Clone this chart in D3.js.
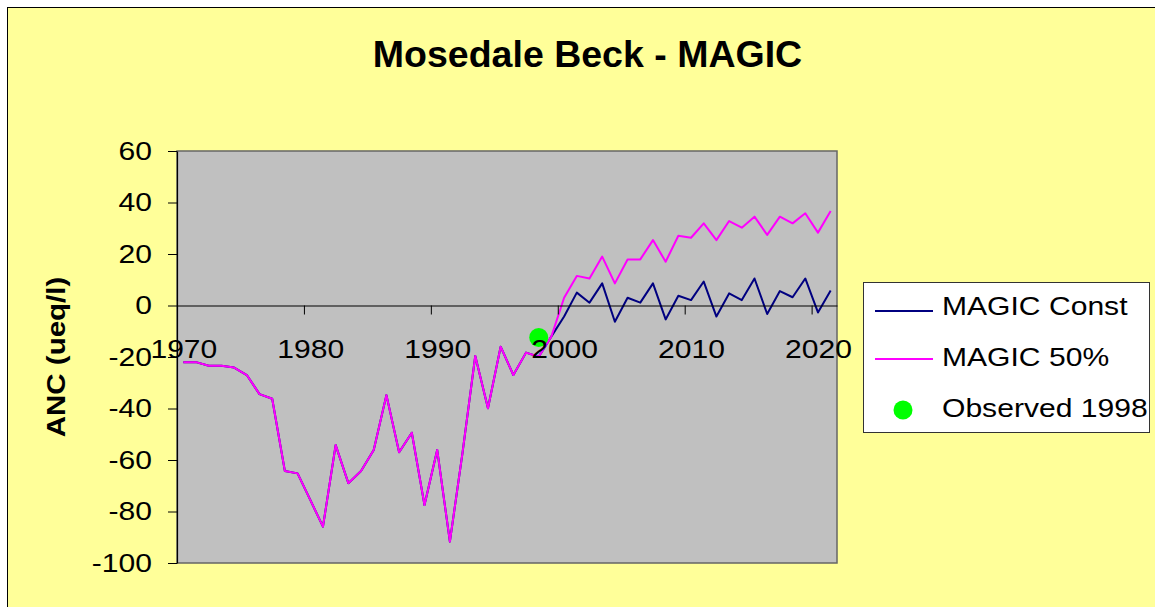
<!DOCTYPE html>
<html>
<head>
<meta charset="utf-8">
<script src="https://cdn.jsdelivr.net/npm/d3@7"></script>
<style>
  html, body { margin: 0; padding: 0; background: #ffffff; }
  svg { display: block; }
  text { font-family: "Liberation Sans", Arial, sans-serif; fill: #000; }
</style>
</head>
<body>
<svg id="chart" width="1155" height="607"></svg>
<script>
// Annual ANC (ueq/l) at Mosedale Beck, MAGIC model runs
const years = d3.range(1970, 2022);

const ancConst = [
  -22, -22, -23.4, -23.4, -24.1, -27, -34.4, -36.2, -64.3, -65.2,
  -75.5, -85.9, -54.2, -69, -64.3, -56.1, -34.8, -57, -49.4, -77.5,
  -56.1, -91.7, -57, -19.6, -39.9, -16, -27, -18.3, -19.9, -12,
  -4.3, 5.0, 1.1, 8.6, -6.3, 3.0, 1.1, 8.6, -5.4, 3.8,
  2.1, 9.3, -4.3, 4.7, 2.1, 10.5, -3.3, 5.6, 3.2, 10.5,
  -2.7, 5.8
];

const anc50 = [
  -22, -22, -23.4, -23.4, -24.1, -27, -34.4, -36.2, -64.3, -65.2,
  -75.5, -85.9, -54.2, -69, -64.3, -56.1, -34.8, -57, -49.4, -77.5,
  -56.1, -91.7, -57, -19.6, -39.9, -16, -27, -18.3, -19.9, -12,
  3.0, 11.5, 10.5, 19, 8.6, 17.9, 17.9, 25.4, 17, 27.1,
  26.3, 31.9, 25.4, 32.8, 30.2, 34.5, 27.4, 34.5, 31.9, 35.8,
  28.3, 36.7
];

const observedYear = [1998];
const observedAnc = [-12.4];

const yTicks = [-100, -80, -60, -40, -20, 0, 20, 40, 60];
const xLabelYears = [1970, 1980, 1990, 2000, 2010, 2020];

const seriesNames = ["MAGIC Const", "MAGIC 50%", "Observed 1998"];
const seriesColors = ["#000080", "#FF00FF", "#00FF00"];

const svg = d3.select("#chart");
const STRETCH = 1.18; // horizontal widening of axis & legend type

// chart area
svg.append("rect")
  .attr("x", 7.5).attr("y", 7.5)
  .attr("width", 1160).attr("height", 610)
  .attr("fill", "#FFFF99").attr("stroke", "#000").attr("stroke-width", 1);

// title
svg.append("text")
  .attr("x", 587.5).attr("y", 67)
  .attr("text-anchor", "middle")
  .attr("font-size", 37.5).attr("font-weight", "bold")
  .text("Mosedale Beck - MAGIC");

const plot = { left: 177, right: 837, top: 151, bottom: 563 };

// category boundaries on a continuous year scale; points sit mid-category
const x = d3.scaleLinear()
  .domain([years[0], years[years.length - 1] + 1])
  .range([plot.left, plot.right]);
const half = (x(1971) - x(1970)) / 2;
const cx = yr => x(yr) + half;

const y = d3.scaleLinear().domain([-100, 60]).range([plot.bottom, plot.top]);

// plot area
svg.append("rect")
  .attr("x", plot.left).attr("y", plot.top)
  .attr("width", plot.right - plot.left).attr("height", plot.bottom - plot.top)
  .attr("fill", "#C0C0C0").attr("stroke", "#666").attr("stroke-width", 1.5);

// series lines
const line = d3.line().x((d, i) => cx(years[i])).y(d => y(d));

svg.append("path").datum(ancConst)
  .attr("d", line).attr("fill", "none")
  .attr("stroke", seriesColors[0]).attr("stroke-width", 2)
  .attr("stroke-linejoin", "round");

svg.append("path").datum(anc50)
  .attr("d", line).attr("fill", "none")
  .attr("stroke", seriesColors[1]).attr("stroke-width", 2)
  .attr("stroke-linejoin", "round");

// observed point
svg.selectAll("circle.obs").data(observedAnc).enter().append("circle")
  .attr("class", "obs")
  .attr("cx", (d, i) => cx(observedYear[i]))
  .attr("cy", d => y(d))
  .attr("r", 9.5)
  .attr("fill", seriesColors[2]);

// y axis (plain hyphen for negatives)
const yAxis = svg.append("g")
  .attr("transform", `translate(${plot.left},0)`)
  .call(d3.axisLeft(y).tickValues(yTicks).tickSize(9).tickSizeOuter(0)
    .tickFormat(d => String(d)));
yAxis.select(".domain").attr("stroke", "#000").attr("stroke-width", 1.2);
yAxis.selectAll(".tick line").attr("stroke", "#000");
yAxis.selectAll(".tick text")
  .attr("x", 0)
  .attr("transform", `translate(-25,0) scale(${STRETCH},1)`)
  .attr("font-size", 25.5)
  .attr("font-family", "Liberation Sans, Arial, sans-serif")
  .attr("fill", "#000");

// x axis crossing at zero: tick marks at category boundaries
const xTicksG = svg.append("g")
  .attr("transform", `translate(0,${y(0)})`)
  .call(d3.axisBottom(x).tickValues(xLabelYears).tickSize(9).tickSizeOuter(0).tickFormat(""));
xTicksG.select(".domain").attr("stroke", "#000").attr("stroke-width", 1.2);
xTicksG.selectAll(".tick line").attr("stroke", "#000");

// x labels centred under their category
const xLabelsG = svg.append("g")
  .attr("transform", `translate(0,${y(0)})`)
  .call(d3.axisBottom(x).tickValues(xLabelYears).tickSize(0).tickFormat(d => String(d)));
xLabelsG.select(".domain").remove();
xLabelsG.selectAll(".tick text")
  .attr("x", 0).attr("y", 0).attr("dy", null)
  .attr("text-anchor", "middle")
  .attr("transform", `translate(${half},52) scale(${STRETCH},1)`)
  .attr("font-size", 25.5)
  .attr("font-family", "Liberation Sans, Arial, sans-serif")
  .attr("fill", "#000");

// y axis title
svg.append("text")
  .attr("transform", `translate(65,357) rotate(-90) scale(${STRETCH},1)`)
  .attr("text-anchor", "middle")
  .attr("font-size", 25)
  .attr("font-weight", "bold")
  .text("ANC (ueq/l)");

// legend
const legend = svg.append("g");
legend.append("rect")
  .attr("x", 863.5).attr("y", 282.5)
  .attr("width", 286).attr("height", 150)
  .attr("fill", "#fff").attr("stroke", "#333").attr("stroke-width", 1);

const rowY = [311, 359, 410];
const textY = [315, 366, 417];
seriesNames.forEach((name, i) => {
  if (i < 2) {
    legend.append("line")
      .attr("x1", 875).attr("x2", 933)
      .attr("y1", rowY[i]).attr("y2", rowY[i])
      .attr("stroke", seriesColors[i]).attr("stroke-width", 2);
  } else {
    legend.append("circle")
      .attr("cx", 903).attr("cy", rowY[i]).attr("r", 9.5)
      .attr("fill", seriesColors[i]);
  }
  legend.append("text")
    .attr("transform", `translate(942,${textY[i]}) scale(${STRETCH},1)`)
    .attr("font-size", 25.5)
    .text(name);
});
</script>
</body>
</html>
